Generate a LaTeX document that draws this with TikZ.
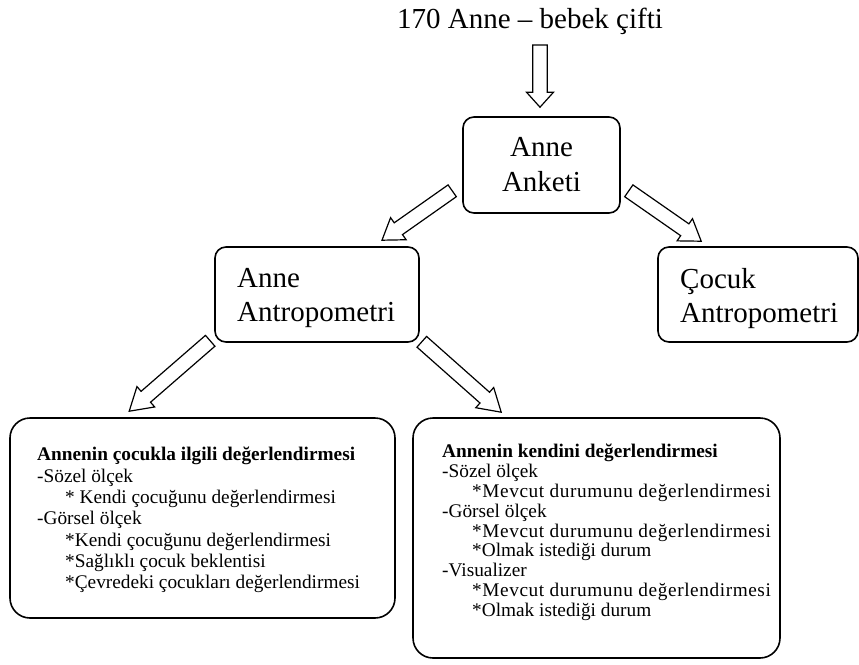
\documentclass[tikz,border=0pt]{standalone}
\usepackage{fontspec}
\setmainfont{Liberation Serif}
\usetikzlibrary{calc}
\tikzset{
  topbox/.style={draw, line width=1.6pt, rounded corners=11pt, inner sep=0pt},
  lowbox/.style={draw, line width=1.6pt, rounded corners=20pt, inner sep=0pt},
  bigtxt/.style={inner sep=0pt, align=left, font=\fontsize{29}{34}\selectfont},
  smalltxt/.style={inner sep=0pt, align=left, font=\fontsize{19.3}{21.3}\selectfont},
  smalltxtb/.style={inner sep=0pt, align=left, font=\fontsize{19.3}{19.8}\selectfont},
  blockarr/.style={draw, line width=1.2pt, line join=miter, fill=white}
}
\newcommand{\blkarrow}[3][20pt]{%
  \coordinate (bah) at ($(#3)!#1!(#2)$);
  \draw[blockarr] ($(#2)!7.2pt!90:(#3)$) -- ($(bah)!7.2pt!90:(#3)$) -- ($(bah)!13.5pt!90:(#3)$) -- (#3)
     -- ($(bah)!13.5pt!-90:(#3)$) -- ($(bah)!7.2pt!-90:(#3)$) -- ($(#2)!7.2pt!-90:(#3)$) -- cycle;
}
\begin{document}
\begin{tikzpicture}[x=1pt,y=-1pt]
\useasboundingbox (0,0) rectangle (859,664);

% title
\node[inner sep=0pt, anchor=base, font=\fontsize{29}{34}\selectfont] (title) at (530,28) {170 Anne – bebek çifti};

% boxes
\node[topbox, minimum width=157pt, minimum height=96pt, align=center, font=\fontsize{29}{35}\selectfont] (anketi) at (541.5,165) {Anne\\Anketi};
\node[topbox, minimum width=204pt, minimum height=95pt] (anneant) at (317,294.5) {};
\node[bigtxt, anchor=north west] (anneanttxt) at (237,268) {Anne\\Antropometri};
\node[topbox, minimum width=200pt, minimum height=95pt] (cocukant) at (758,294.5) {};
\node[bigtxt, anchor=north west] (cocukanttxt) at (680,268) {Çocuk\\Antropometri};

\node[lowbox, minimum width=385pt, minimum height=200pt] (leftbox) at (202.5,518) {};
\node[smalltxt, anchor=north west] (lefttxt) at (37,447) {%
\textbf{Annenin çocukla ilgili değerlendirmesi}\\
-Sözel ölçek\\
\hspace*{28pt}* Kendi çocuğunu değerlendirmesi\\
-Görsel ölçek\\
\hspace*{28pt}*Kendi çocuğunu değerlendirmesi\\
\hspace*{28pt}*Sağlıklı çocuk beklentisi\\
\hspace*{28pt}*Çevredeki çocukları değerlendirmesi};

\node[lowbox, minimum width=367pt, minimum height=240pt] (rightbox) at (596.5,538) {};
\node[smalltxtb, anchor=north west] (righttxt) at (442,444) {%
\textbf{Annenin kendini değerlendirmesi}\\
-Sözel ölçek\\
\hspace*{30pt}{\addfontfeature{LetterSpace=3}*Mevcut durumunu değerlendirmesi}\\
-Görsel ölçek\\
\hspace*{30pt}{\addfontfeature{LetterSpace=3}*Mevcut durumunu değerlendirmesi}\\
\hspace*{30pt}*Olmak istediği durum\\
-Visualizer\\
\hspace*{30pt}{\addfontfeature{LetterSpace=3}*Mevcut durumunu değerlendirmesi}\\
\hspace*{30pt}*Olmak istediği durum};

% arrow end points
\coordinate (t0s) at ($(title.base)+(10,17)$);
\coordinate (t0e) at ($(anketi.north)+(-1.5,-9)$);
\coordinate (a1s) at ($(anketi.south west)+(-10,-23)$);
\coordinate (a1e) at ($(anneant.north)+(65,-6)$);
\coordinate (a2s) at ($(anketi.south east)+(8,-23)$);
\coordinate (a2e) at ($(cocukant.north west)+(44,-5)$);
\coordinate (a3s) at ($(anneant.south west)+(-4,-2)$);
\coordinate (a3e) at ($(leftbox.north west)+(120,-6)$);
\coordinate (a4s) at ($(anneant.south east)+(2,-1)$);
\coordinate (a4e) at ($(rightbox.north west)+(89,-5)$);

\blkarrow[15pt]{t0s}{t0e}
\blkarrow{a1s}{a1e}
\blkarrow{a2s}{a2e}
\blkarrow[22pt]{a3s}{a3e}
\blkarrow[22pt]{a4s}{a4e}
\end{tikzpicture}
\end{document}
